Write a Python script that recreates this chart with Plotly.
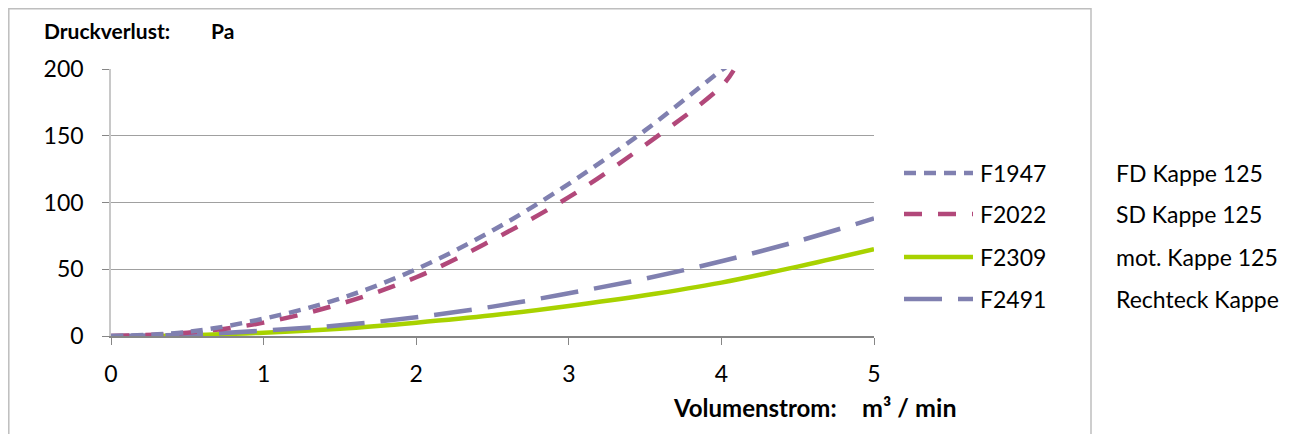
import plotly.graph_objects as go

# ---- data ----
x_f1947 = [0, 0.5, 1, 1.5, 2, 2.5, 3, 3.5, 4, 4.04]
y_f1947 = [0, 3, 13, 28, 50, 79, 114, 154, 199, 202]

x_f2022 = [0, 0.5, 1, 1.5, 2, 2.5, 3, 3.5, 4, 4.08]
y_f2022 = [0, 2.5, 10, 24, 44, 72, 104, 143, 187, 199]

x_f2309 = [0.25, 0.5, 1, 1.5, 2, 2.5, 3, 3.5, 4, 4.5, 5]
y_f2309 = [0, 0.6, 2.5, 5.5, 10, 15.5, 22.5, 30.5, 40, 52, 65]

x_f2491 = [0, 0.5, 1, 1.5, 2, 2.5, 3, 3.5, 4, 4.5, 5]
y_f2491 = [0, 1, 4, 8, 14, 22, 32, 43, 56, 71, 88]

series_names = ["F1947", "F2022", "F2309", "F2491"]
side_labels = ["FD Kappe 125", "SD Kappe 125", "mot. Kappe 125", "Rechteck Kappe"]
x_ticks = [0, 1, 2, 3, 4, 5]
y_ticks = [0, 50, 100, 150, 200]

BLUE = "rgb(128,128,176)"
MAGENTA = "rgb(178,72,122)"
GREEN = "rgb(168,210,0)"
FONT = "Lato"

styles = [
    dict(color=BLUE, width=4.5, dash="12px,8px"),
    dict(color=MAGENTA, width=4.5, dash="18px,16px"),
    dict(color=GREEN, width=4.5, dash="solid"),
    dict(color=BLUE, width=4.5, dash="38px,16px"),
]
xs = [x_f1947, x_f2022, x_f2309, x_f2491]
ys = [y_f1947, y_f2022, y_f2309, y_f2491]

fig = go.Figure()
for i in [2, 3, 1, 0]:
    fig.add_trace(go.Scatter(
        x=xs[i], y=ys[i], mode="lines", name=series_names[i],
        line=dict(shape="spline", smoothing=1.0, **styles[i]),
        showlegend=False, hoverinfo="x+y+name",
    ))

# page offset of the figure inside the browser window
OFF = 8
W, H = 1299 - OFF, 434 - OFF
# plot area in reference-window pixels
L, R, T, B = 111, 874, 69, 336

def px(x):
    return (x - L) / (R - L)
def py(y):
    return (B - y) / (B - T)

shapes = []
shapes.append(dict(type="rect", xref="paper", yref="paper",
                   x0=px(8.8), x1=px(1091), y0=py(8.8), y1=py(470),
                   line=dict(color="rgb(190,190,190)", width=1.5),
                   fillcolor="rgba(0,0,0,0)", layer="below"))

annotations = []
rows = [173, 214, 257, 299]
for i, yy in enumerate(rows):
    shapes.append(dict(type="line", xref="paper", yref="paper",
                       x0=px(904), x1=px(973), y0=py(yy), y1=py(yy),
                       line=dict(color=styles[i]["color"], width=4.5, dash=styles[i]["dash"])))
    annotations.append(dict(text=series_names[i], xref="paper", yref="paper",
                            x=px(978), y=py(yy), xanchor="left", yanchor="middle",
                            showarrow=False, font=dict(size=23, color="black", family=FONT)))
    annotations.append(dict(text=side_labels[i], xref="paper", yref="paper",
                            x=px(1114), y=py(yy), xanchor="left", yanchor="middle",
                            showarrow=False, font=dict(size=23, color="black", family=FONT)))

def bold_text(txt, x, y, size):
    annotations.append(dict(text="<b>" + txt + "</b>", xref="paper", yref="paper",
                            x=px(x), y=py(y), xanchor="left", yanchor="middle",
                            showarrow=False, font=dict(size=size, color="black", family=FONT)))

bold_text("Druckverlust:", 42, 30, 21)
bold_text("Pa", 209, 30, 21)
bold_text("Volumenstrom:", 671, 407, 24)
bold_text("m³ / min", 860, 407, 25)

fig.update_layout(
    width=W, height=H,
    margin=dict(l=L - OFF, r=1299 - R, t=T - OFF, b=434 - B),
    paper_bgcolor="white", plot_bgcolor="white",
    font=dict(family=FONT, size=23, color="black"),
    shapes=shapes, annotations=annotations,
    xaxis=dict(range=[0, 5], tickvals=x_ticks, ticktext=[str(v) for v in x_ticks],
               showgrid=False, zeroline=False, showline=True,
               linecolor="rgb(134,134,134)", linewidth=1.5,
               ticks="outside", ticklen=7, tickcolor="rgb(134,134,134)",
               ticklabelstandoff=10, tickfont=dict(size=23, family=FONT)),
    yaxis=dict(range=[0, 200], tickvals=y_ticks, ticktext=[str(v) for v in y_ticks],
               showgrid=True, gridcolor="rgb(160,160,160)", gridwidth=1.2,
               zeroline=False, showline=True,
               linecolor="rgb(200,200,200)", linewidth=1.5,
               ticks="outside", ticklen=7, tickcolor="rgb(134,134,134)",
               ticklabelstandoff=14, tickfont=dict(size=23, family=FONT)),
)

fig.write_html("out.html")
